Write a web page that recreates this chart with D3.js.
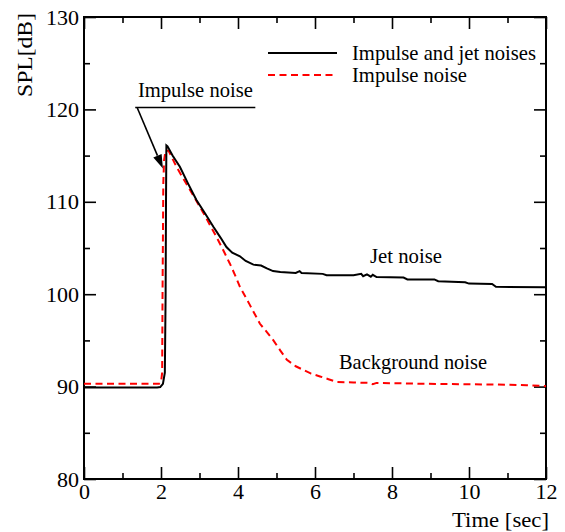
<!DOCTYPE html>
<html>
<head>
<meta charset="utf-8">
<script src="https://cdn.jsdelivr.net/npm/d3@7"></script>
<style>
  body{margin:0;background:#fff;}
</style>
</head>
<body>
<div id="chart"></div>
<script>
// time [sec], SPL [dB]
const jetSeries = [[0,89.9],[1.9,89.9],[1.98,89.95],[2.05,90.3],[2.1,91.5],[2.12,100],[2.13,110],[2.14,116.1],[2.17,116.0],
  [2.3,115.0],[2.49,113.8],[2.7,112.0],[2.92,110.2],[3.15,108.7],[3.36,107.3],[3.55,106.1],[3.7,105.1],[3.85,104.5],
  [4.05,104.1],[4.2,103.6],[4.4,103.2],[4.6,103.1],[4.75,102.8],[4.91,102.5],[5.1,102.4],[5.5,102.3],[5.6,102.5],
  [5.65,102.3],[6.2,102.2],[6.3,102.05],[7.0,102.05],[7.2,102.2],[7.25,101.95],[7.35,102.15],[7.45,101.9],[7.5,102.1],
  [7.6,101.85],[8.3,101.8],[8.4,101.6],[9.1,101.6],[9.2,101.4],[9.9,101.3],[10.0,101.15],[10.6,101.1],[10.7,100.8],[12,100.75]];
const impulseSeries = [[0,90.3],[1.95,90.3],[2.0,90.45],[2.03,91.5],[2.04,100],[2.06,112],[2.08,114.5],[2.12,115.6],[2.2,115.5],
  [2.4,113.8],[2.58,112.5],[2.75,111.3],[2.92,110.1],[3.1,108.8],[3.27,107.5],[3.44,106.2],[3.6,104.9],[3.79,103.3],
  [3.92,102.1],[4.05,100.8],[4.3,98.9],[4.57,96.8],[4.75,95.9],[4.92,95.0],[5.1,93.9],[5.27,92.9],[5.5,92.2],[5.7,91.8],
  [5.9,91.4],[6.13,91.1],[6.35,90.8],[6.56,90.5],[7.0,90.45],[7.4,90.4],[7.5,90.25],[7.6,90.4],[8.9,90.3],[10.0,90.25],
  [11.06,90.2],[11.5,90.15],[12,90.05]];
const xMajor = [0,2,4,6,8,10,12];
const xMinor = [1,3,5,7,9,11];
const yMajor = [80,90,100,110,120,130];
const yMinor = [85,95,105,115,125];
const legendLabels = ['Impulse and jet noises','Impulse noise'];

const FONT="'Liberation Serif','Times New Roman',serif";
const W=565,H=532, L=84,R=546,T=17,B=479;
const x=d3.scaleLinear().domain([0,12]).range([L,R]);
const y=d3.scaleLinear().domain([80,130]).range([B,T]);

const svg=d3.select('#chart').append('svg').attr('width',W).attr('height',H);

// the original type is set a little wider than Liberation Serif, so stretch to measured widths
function fit(sel,len){ return sel.attr('textLength',len).attr('lengthAdjust','spacingAndGlyphs'); }

function ax(gen,vals,size,tr,labels){
  const g=svg.append('g').attr('transform',tr)
    .call(gen.tickValues(vals).tickSize(size).tickPadding(labels?6:0).tickFormat(labels?d3.format('d'):()=>''));
  g.select('.domain').remove();
  g.selectAll('line').attr('stroke','#000').attr('stroke-width',1.6);
  g.selectAll('text').style('font-family',FONT).style('font-size','21px').attr('fill','#000')
    .each(function(){ fit(d3.select(this),this.textContent.length*11); });
  return g;
}
// bottom
ax(d3.axisBottom(x),xMajor,-12,`translate(0,${B})`,true).selectAll('text').attr('dy',0).attr('y',20);
ax(d3.axisBottom(x),xMinor,-6,`translate(0,${B})`,false);
// top
ax(d3.axisTop(x),xMajor,-12,`translate(0,${T})`,false);
ax(d3.axisTop(x),xMinor,-6,`translate(0,${T})`,false);
// left
ax(d3.axisLeft(y),yMajor,-12,`translate(${L},0)`,true).selectAll('text').attr('x',-5).attr('dy','0.34em');
ax(d3.axisLeft(y),yMinor,-6,`translate(${L},0)`,false);
// right
ax(d3.axisRight(y),yMajor,-12,`translate(${R},0)`,false);
ax(d3.axisRight(y),yMinor,-6,`translate(${R},0)`,false);

svg.append('rect').attr('x',L).attr('y',T).attr('width',R-L).attr('height',B-T)
  .attr('fill','none').attr('stroke','#000').attr('stroke-width',2);

const line=d3.line().x(d=>x(d[0])).y(d=>y(d[1]));
svg.append('path').datum(impulseSeries).attr('d',line).attr('fill','none')
  .attr('stroke','#f00').attr('stroke-width',2).attr('stroke-dasharray','7 4.5');
svg.append('path').datum(jetSeries).attr('d',line).attr('fill','none')
  .attr('stroke','#000').attr('stroke-width',2);

function txt(xx,yy,s,len,anchor){
  return fit(svg.append('text').attr('x',xx).attr('y',yy).attr('text-anchor',anchor||'start')
    .style('font-family',FONT).style('font-size','21px').attr('fill','#000').text(s),len);
}
// axis titles
txt(0,0,'SPL[dB]',84,'middle').attr('transform','translate(32,55) rotate(-90)');
txt(452,527,'Time [sec]',97);

// legend
[['#000',null],['#f00','7 4.5']].forEach((s,i)=>{
  const yy=53+i*22;
  svg.append('line').attr('x1',268).attr('x2',337).attr('y1',yy).attr('y2',yy)
    .attr('stroke',s[0]).attr('stroke-width',2).attr('stroke-dasharray',s[1]);
  txt(352,yy+7,legendLabels[i],i?115:184);
});

// annotations
txt(x(1.4),y(121.3),'Impulse noise',115);
svg.append('line').attr('x1',x(1.33)).attr('x2',x(4.45)).attr('y1',y(120.2)).attr('y2',y(120.2))
  .attr('stroke','#000').attr('stroke-width',1.6);
const a0=[x(1.38),y(120.2)], a1=[x(2.05),y(113.6)];
const ang=Math.atan2(a1[1]-a0[1],a1[0]-a0[0]);
const hl=14, hw=4.5;
const bx=a1[0]-hl*Math.cos(ang), by=a1[1]-hl*Math.sin(ang);
svg.append('line').attr('x1',a0[0]).attr('y1',a0[1]).attr('x2',bx).attr('y2',by)
  .attr('stroke','#000').attr('stroke-width',1.6);
svg.append('path').attr('fill','#000').attr('d',
  `M${a1[0]},${a1[1]}L${bx+hw*Math.sin(ang)},${by-hw*Math.cos(ang)}L${bx-hw*Math.sin(ang)},${by+hw*Math.cos(ang)}Z`);
txt(370,263,'Jet noise',72);
txt(339,369,'Background noise',148);
</script>
</body>
</html>
